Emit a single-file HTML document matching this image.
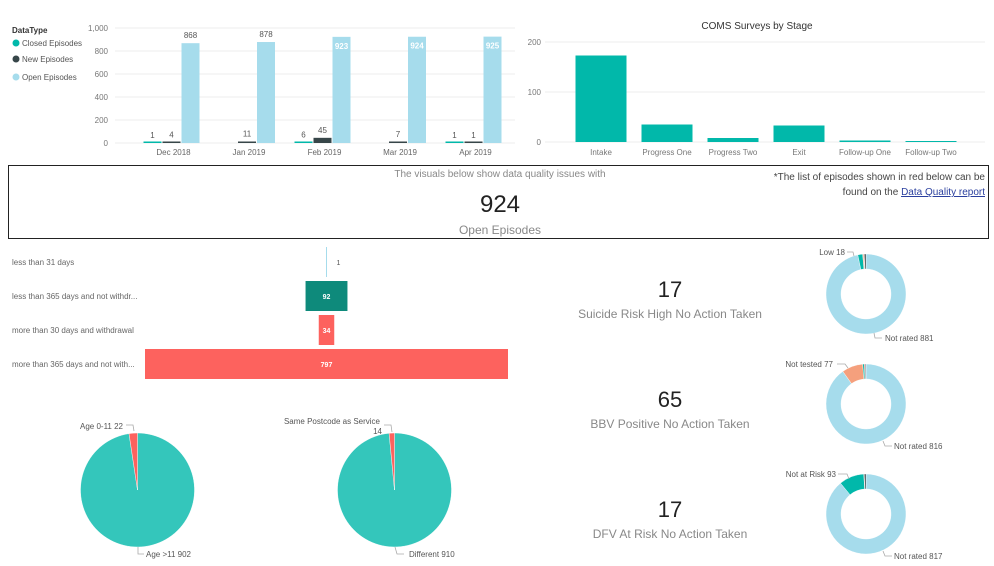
<!DOCTYPE html>
<html><head><meta charset="utf-8">
<style>
body{margin:0;width:994px;height:566px;background:#fff;overflow:hidden;font-family:"Liberation Sans",sans-serif;}
svg{position:absolute;left:0;top:0}
text{font-family:"Liberation Sans",sans-serif}
</style></head>
<body>
<svg id="s" width="994" height="566" viewBox="0 0 994 566">
  <g>
    <text x="12" y="33" font-size="8" fill="#333" font-weight="bold">DataType</text>
    <circle cx="16" cy="43" r="3.5" fill="#01B8AA"/><text x="22" y="46" font-size="8" fill="#555">Closed Episodes</text>
    <circle cx="16" cy="59" r="3.5" fill="#374649"/><text x="22" y="62" font-size="8" fill="#555">New Episodes</text>
    <circle cx="16" cy="77" r="3.5" fill="#A6DCEC"/><text x="22" y="80" font-size="8" fill="#555">Open Episodes</text>
  </g>
  <text x="757" y="29" font-size="10" fill="#333" text-anchor="middle">COMS Surveys by Stage</text>
  <rect x="8.5" y="165.5" width="980" height="73" fill="none" stroke="#222" stroke-width="1"/>
  <text x="500" y="177" font-size="10" fill="#888" text-anchor="middle">The visuals below show data quality issues with</text>
  <text x="500" y="212" font-size="24" fill="#222" text-anchor="middle">924</text>
  <text x="500" y="234" font-size="12" fill="#888" text-anchor="middle">Open Episodes</text>
  <text x="985" y="180" font-size="10" fill="#444" text-anchor="end">*The list of episodes shown in red below can be</text>
  <text x="985" y="195" font-size="10" fill="#444" text-anchor="end">found on the <tspan fill="#2a3f9e" text-decoration="underline">Data Quality report</tspan></text>

  <text x="670" y="297" font-size="22" fill="#222" text-anchor="middle">17</text>
  <text x="670" y="318" font-size="12" fill="#888" text-anchor="middle">Suicide Risk High No Action Taken</text>
  <text x="670" y="407" font-size="22" fill="#222" text-anchor="middle">65</text>
  <text x="670" y="428" font-size="12" fill="#888" text-anchor="middle">BBV Positive No Action Taken</text>
  <text x="670" y="517" font-size="22" fill="#222" text-anchor="middle">17</text>
  <text x="670" y="538" font-size="12" fill="#888" text-anchor="middle">DFV At Risk No Action Taken</text>
</svg>
<script>
// Episodes chart data
const months = ["Dec 2018","Jan 2019","Feb 2019","Mar 2019","Apr 2019"];
const closedVals = [1,0,6,0,1];
const newVals = [4,11,45,7,1];
const openVals = [868,878,923,924,925];
const epTicks = [0,200,400,600,800,1000];
const epTickLabels = ["0","200","400","600","800","1,000"];
// COMS chart data
const stages = ["Intake","Progress One","Progress Two","Exit","Follow-up One","Follow-up Two"];
const stageVals = [173,35,8,33,3,2];
const comsTicks = [0,100,200];
// Funnel data
const funnelCats = ["less than 31 days","less than 365 days and not withdr...","more than 30 days and withdrawal","more than 365 days and not with..."];
const funnelVals = [1,92,34,797];
const funnelColors = ["#A6DCEC","#0E8A7B","#FD625E","#FD625E"];
// Donut data
const donut1Vals = [881,18,4,2,6];
const donut1Colors = ["#A6DCEC","#01B8AA","#F5A07D","#FD625E","#374649"];
const donut2Vals = [816,77,6,3,3];
const donut2Colors = ["#A6DCEC","#F5A07D","#01B8AA","#FD625E","#374649"];
const donut3Vals = [817,93,2,6];
const donut3Colors = ["#A6DCEC","#01B8AA","#FD625E","#374649"];
// Pie data
const pie1Labels = ["Age >11","Age 0-11"];
const pie1Vals = [902,22];
const pie2Labels = ["Different","Same Postcode as Service"];
const pie2Vals = [910,14];

const NS="http://www.w3.org/2000/svg";
const svg=document.getElementById('s');
function mk(tag,attrs,parent){const e=document.createElementNS(NS,tag);for(const k in attrs)e.setAttribute(k,attrs[k]);(parent||svg).appendChild(e);return e;}
function txt(x,y,s,size,fill,anchor,parent){const t=mk('text',{x:x,y:y,'font-size':size,fill:fill,'text-anchor':anchor||'start'},parent);t.textContent=s;return t;}

// ---- Episodes bar chart
const epY=v=>143-v*(115/1000);
const epGroupX=i=>171.5+i*75.5;
epTicks.forEach((t,i)=>{
  mk('line',{x1:115,x2:515,y1:epY(t),y2:epY(t),stroke:'#eee'});
  const l=txt(108,epY(t)+3,epTickLabels[i],8,'#777','end');
  
  
});
const bw=18;
months.forEach((m,i)=>{
  const gx=epGroupX(i);
  [[closedVals,'#01B8AA',-1],[newVals,'#374649',0],[openVals,'#A6DCEC',1]].forEach(([arr,c,o])=>{
    const v=arr[i]; const x=gx+o*19-bw/2;
    const h=Math.max(epY(0)-epY(v),v>0?1.5:0);
    const r=mk('rect',{x:x,y:epY(0)-h,width:bw,height:h,fill:c});
    
    
    if(v>0){
      if(v>900){const t=txt(x+bw/2,epY(v)+12,String(v),8,'#fff','middle');t.setAttribute('font-weight','bold');}
      else txt(x+bw/2,epY(v)-5,String(v),8,'#555','middle');
    }
  });
  const l=txt(gx+2,155,m,8,'#666','middle');
  
  
});

// ---- COMS chart
const cY=v=>142-v*0.5;
comsTicks.forEach(t=>{
  mk('line',{x1:545,x2:985,y1:cY(t),y2:cY(t),stroke:'#eee'});
  const l=txt(541,cY(t)+3,String(t),8,'#777','end');
  
  
});
stages.forEach((s,i)=>{
  const cx=601+i*66;
  const r=mk('rect',{x:cx-25.5,y:cY(stageVals[i]),width:51,height:cY(0)-cY(stageVals[i]),fill:'#01B8AA'});
  
  
  const l=txt(cx,155,s,8,'#777','middle');
  
  
});

// ---- Funnel
const fMax=Math.max(...funnelVals);
const fScale=363/fMax, fCx=326.5;
funnelCats.forEach((c,i)=>{
  const cy=262+i*34;
  const l=txt(12,cy+3,c,8,'#666');
  
  
  const w=funnelVals[i]*fScale;
  const r=mk('rect',{x:fCx-Math.max(w,1)/2,y:cy-15,width:Math.max(w,1),height:30,fill:funnelColors[i]});
  
  
  if(w<5){txt(fCx+10,cy+3,String(funnelVals[i]),7,'#555');}
  else {const t=txt(fCx,cy+3,String(funnelVals[i]),7,'#fff','middle');t.setAttribute('font-weight','bold');}
});

// ---- arcs
function arcPath(cx,cy,ro,ri,a0,a1){
  const p=(r,a)=>[cx+r*Math.sin(a),cy-r*Math.cos(a)];
  const lg=(a1-a0)>Math.PI?1:0;
  const [x0,y0]=p(ro,a0),[x1,y1]=p(ro,a1);
  if(ri<=0){return `M${cx},${cy}L${x0},${y0}A${ro},${ro} 0 ${lg} 1 ${x1},${y1}Z`;}
  const [x2,y2]=p(ri,a1),[x3,y3]=p(ri,a0);
  return `M${x0},${y0}A${ro},${ro} 0 ${lg} 1 ${x1},${y1}L${x2},${y2}A${ri},${ri} 0 ${lg} 0 ${x3},${y3}Z`;
}
function ring(cx,cy,ro,ri,vals,colors,name){
  const tot=vals.reduce((a,b)=>a+b,0);let a=0;
  vals.forEach((v,i)=>{
    const a1=a+v/tot*Math.PI*2;
    const p=mk('path',{d:arcPath(cx,cy,ro,ri,a,Math.min(a1,a+Math.PI*2-1e-4)),fill:colors[i],stroke:'#fff','stroke-width':0.4});
    
    
    a=a1;
  });
}
function leader(pts){mk('polyline',{points:pts,fill:'none',stroke:'#aaa','stroke-width':0.8});}

ring(866,294,40,25,donut1Vals,donut1Colors,'donut-suicide');
leader('847,252 853,252 854,256'); txt(845,255,'Low '+donut1Vals[1],8,'#555','end');
leader('874,333 875,338 882,338'); txt(885,341,'Not rated '+donut1Vals[0],8,'#555');
ring(866,404,40,25,donut2Vals,donut2Colors,'donut-bbv');
leader('837,364 845,364 848,368'); txt(833,367,'Not tested '+donut2Vals[1],8,'#555','end');
leader('883,441 885,446 892,446'); txt(894,449,'Not rated '+donut2Vals[0],8,'#555');
ring(866,514,40,25,donut3Vals,donut3Colors,'donut-dfv');
leader('838,474 847,474 849,479'); txt(836,477,'Not at Risk '+donut3Vals[1],8,'#555','end');
leader('883,551 885,556 892,556'); txt(894,559,'Not rated '+donut3Vals[0],8,'#555');

ring(137.5,490,57,0,pie1Vals,['#34C6BB','#FD625E'],'pie-age');
leader('126,425 133,425 134,431'); txt(123,429,pie1Labels[1]+' '+pie1Vals[1],8,'#555','end');
leader('138,547 138,554 144,554'); txt(146,557,pie1Labels[0]+' '+pie1Vals[0],8,'#555');
ring(394.5,490,57,0,pie2Vals,['#34C6BB','#FD625E'],'pie-postcode');
leader('384,425 391,425 392,432'); txt(380,424,pie2Labels[1],8,'#555','end'); txt(382,434,String(pie2Vals[1]),8,'#555','end');
leader('395,547 397,554 404,554'); txt(409,557,pie2Labels[0]+' '+pie2Vals[0],8,'#555');
</script>
</body></html>
